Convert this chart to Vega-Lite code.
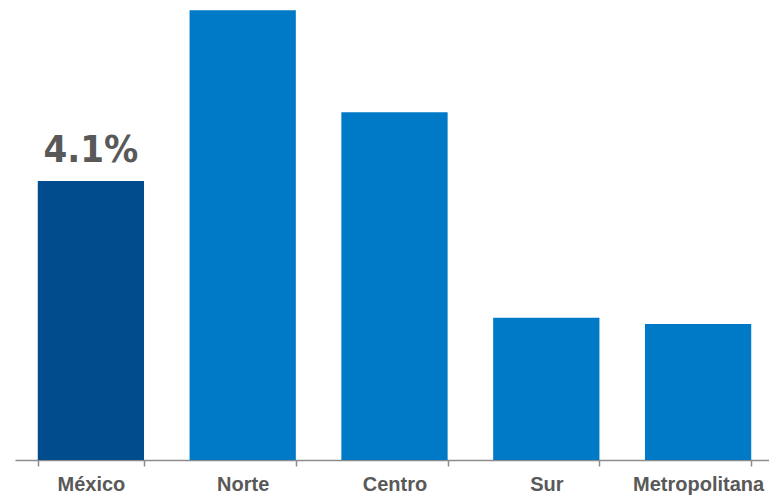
{
  "$schema": "https://vega.github.io/schema/vega-lite/v6.json",
  "width": 759,
  "height": 460,
  "autosize": {"type": "none"},
  "padding": {"left": 15, "top": 0, "right": 0, "bottom": 36},
  "background": "white",
  "config": {"view": {"stroke": null}},
  "data": {
    "values": [
      {"region": "México", "value": 4.1, "highlight": "yes", "label": "4.1%"},
      {"region": "Norte", "value": 6.61, "highlight": "no", "label": ""},
      {"region": "Centro", "value": 5.11, "highlight": "no", "label": ""},
      {"region": "Sur", "value": 2.09, "highlight": "no", "label": ""},
      {"region": "Metropolitana", "value": 2.0, "highlight": "no", "label": ""}
    ]
  },
  "encoding": {
    "x": {
      "field": "region",
      "type": "nominal",
      "sort": null,
      "scale": {"paddingInner": 0.3, "paddingOuter": 0.15},
      "axis": {
        "title": null,
        "labelAngle": 0,
        "labelFont": "Liberation Sans",
        "labelFontSize": 20,
        "labelFontWeight": "bold",
        "labelColor": "#595959",
        "labelPadding": 8,
        "labelBaseline": "top",
        "tickBand": "extent",
        "tickSize": 6,
        "tickColor": "#8c8c8c",
        "tickWidth": 1.5,
        "domainColor": "#8c8c8c",
        "domainWidth": 1.5
      }
    },
    "y": {
      "field": "value",
      "type": "quantitative",
      "scale": {"domain": [0, 6.76], "nice": false},
      "axis": null
    }
  },
  "layer": [
    {
      "mark": {"type": "bar"},
      "encoding": {
        "color": {
          "field": "highlight",
          "type": "nominal",
          "scale": {"domain": ["yes", "no"], "range": ["#004C8C", "#007AC6"]},
          "legend": null
        }
      }
    },
    {
      "mark": {
        "type": "text",
        "baseline": "alphabetic",
        "align": "center",
        "dy": -19,
        "font": "DejaVu Sans Condensed, Liberation Sans",
        "fontSize": 38,
        "fontWeight": "bold",
        "color": "#595959"
      },
      "encoding": {"text": {"field": "label"}}
    }
  ]
}
